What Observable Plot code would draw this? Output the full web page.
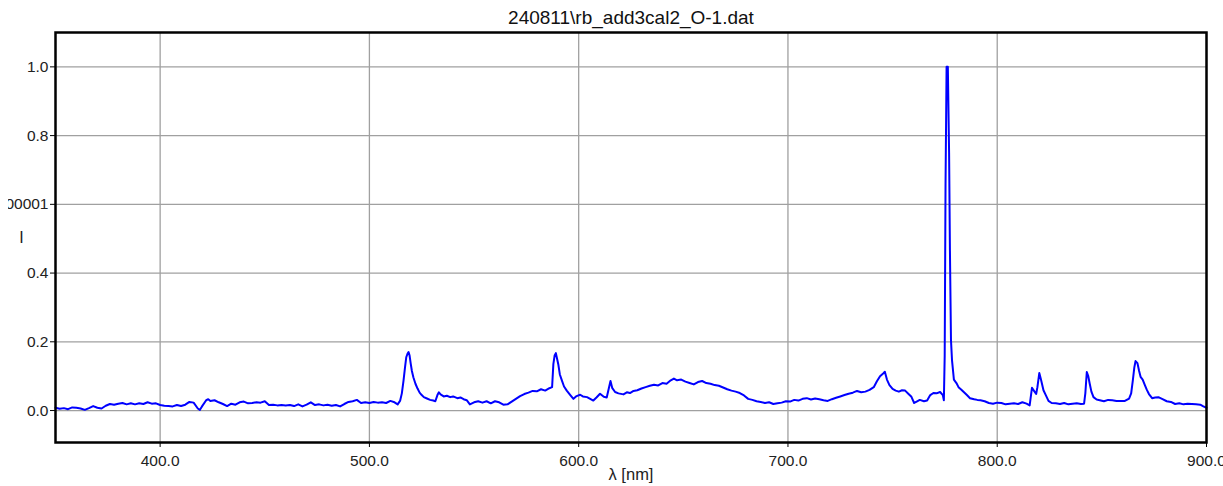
<!DOCTYPE html>
<html>
<head>
<meta charset="utf-8">
<script src="https://cdn.jsdelivr.net/npm/d3@7"></script>
<script src="https://cdn.jsdelivr.net/npm/@observablehq/plot@0.6"></script>
<style>
  html, body { margin: 0; padding: 0; background: #fff; overflow: hidden; }
  #title {
    box-sizing: border-box; width: 1223px; height: 28px; padding-top: 8px; padding-left: 39px;
    font: 19px "Liberation Sans", Arial, sans-serif; line-height: 19px; text-align: center; color: #111;
    white-space: nowrap; position: relative; z-index: 2;
  }
  #chart svg { clip-path: inset(0 0 0 8px); }
</style>
</head>
<body>
<div id="title">240811\rb_add3cal2_O-1.dat</div>
<div id="chart"></div>
<script>
// Spectrum segments: [wavelength nm, relative intensity]
const bandUV = [
  [350,0.008],[352,0.005],[354,0.007],[356,0.004],[358,0.009],[360,0.008],[362,0.006],[364,0.002],
  [366,0.007],[368,0.013],[370,0.008],[372,0.006],[374,0.014],[376,0.019],[378,0.017],[380,0.020],
  [382,0.022],[384,0.018],[386,0.021],[388,0.018],[390,0.021],[392,0.019],[394,0.024],[396,0.020],
  [398,0.021],[400,0.016],[402,0.014],[404,0.013],[406,0.012],[408,0.016],[410,0.013],[412,0.017],
  [414,0.025],[416,0.023],[418,0.006],[419,0.002],[420,0.012],[422,0.030],[423,0.033],[424,0.028],
  [426,0.030],[428,0.024],[430,0.019],[432,0.013],[434,0.020],[436,0.017],[438,0.024],[440,0.026],
  [442,0.021],[444,0.022],[446,0.024],[448,0.023],[450,0.027],[452,0.016],[454,0.017],[456,0.015],
  [458,0.016],[460,0.015],[462,0.016],[464,0.013],[466,0.018],[468,0.012],[470,0.017],[472,0.024],
  [474,0.016],[476,0.018],[478,0.015],[480,0.017],[482,0.014],[484,0.016],[486,0.012],[488,0.019],
  [490,0.025],[492,0.027],[494,0.031],[496,0.022],[498,0.024],[500,0.022],[502,0.025],[504,0.023],
  [506,0.024],[508,0.022],[510,0.028]
];
const bandGreen = [
  [512,0.024],[513.5,0.018],[514.7,0.029],[515.5,0.050],[516.3,0.087],[517.0,0.125],[517.6,0.155],
  [518.2,0.165],[518.7,0.170],[519.2,0.160],[519.7,0.138],[520.3,0.115],[521.0,0.097],[522.0,0.078],
  [523.0,0.064],[524.0,0.052],[525.0,0.045],[526.0,0.039],[527.5,0.035],[529.0,0.031],[530.5,0.029],
  [531.5,0.027],[532.5,0.045],[533.2,0.053],[534.0,0.047],[535.5,0.041],[537.0,0.043],[538.6,0.039],
  [540.0,0.041],[542.0,0.036],[543.5,0.038],[545.0,0.033],[546.5,0.030],[548.0,0.018],[550.0,0.024],
  [552.0,0.027],[554.0,0.023],[556.0,0.027],[558.0,0.021],[560.0,0.027],[562.0,0.024],[564.0,0.017],
  [566.0,0.018],[568.0,0.026],[570.0,0.034],[572.0,0.042],[574.0,0.048],[576.0,0.052],[578.0,0.057],
  [580.0,0.056],[582.0,0.062],[584.0,0.058],[586.0,0.065],[587.3,0.068],[587.9,0.135],[588.5,0.160],
  [589.1,0.167],[589.7,0.150],[590.3,0.133],[591.0,0.105],[592.0,0.087],[593.0,0.070],[594.3,0.058],
  [596.0,0.045],[597.5,0.034],[599.0,0.042],[600.7,0.046],[602.0,0.041],[604.0,0.039],[605.5,0.034],
  [607.0,0.029],[608.5,0.038],[610.2,0.049],[612.0,0.040],[613.4,0.038],[614.6,0.070],[615.2,0.086],
  [616.0,0.066],[617.4,0.054],[619.0,0.050],[621.4,0.047],[623.0,0.053],[624.5,0.051],[626.2,0.057],
  [628.0,0.059]
];
const bandRed = [
  [630,0.064],[632,0.068],[634,0.072],[636,0.075],[638,0.073],[640,0.080],[642,0.078],[644,0.088],
  [645.5,0.093],[647,0.088],[649,0.090],[651,0.084],[653,0.080],[655,0.076],[657,0.083],[659,0.086],
  [661,0.080],[663,0.078],[665,0.074],[667,0.072],[669,0.067],[671,0.062],[673,0.058],[675,0.055],
  [677,0.051],[679,0.044],[681,0.034],[683,0.031],[685,0.027],[687,0.025],[689,0.022],[691,0.024],
  [693,0.019],[695,0.021],[697,0.023],[699,0.027],[701,0.026],[703,0.031],[705,0.029],[707,0.034],
  [709,0.036],[711,0.032],[713,0.035],[715,0.033],[717,0.030],[719,0.028],[721,0.033],[723,0.037],
  [725,0.041],[727,0.045],[729,0.049],[731,0.052],[733,0.057],[735,0.053],[737,0.055],[739,0.060],
  [741,0.068],[742.5,0.085],[744,0.100],[745.5,0.108],[746.3,0.113],[747.3,0.090],[748.5,0.074],
  [750,0.063],[751.5,0.058],[753,0.055],[754.5,0.059],[756,0.058],[757.5,0.049],[759,0.040],
  [760.3,0.022],[761.5,0.026],[763,0.031],[765,0.027],[766.5,0.029],[768,0.045],[769.5,0.051],
  [771,0.050],[772.7,0.054],[774.0,0.045],[774.5,0.030]
];
const oxygenLine = [
  [774.9,0.160],[775.3,0.660],[775.8,1.000],[776.4,1.000],[777.0,0.750],[777.4,0.465],[777.9,0.205],
  [778.4,0.146],[779.3,0.090],[780.5,0.080],[781.5,0.068],[783,0.060],[784,0.054],[785.5,0.045],
  [787,0.036],[789,0.033],[790.5,0.031],[792,0.030],[794,0.027],[796,0.022],[798,0.020]
];
const bandNIR = [
  [800,0.023],[802,0.022],[804,0.018],[806,0.020],[808,0.021],[810,0.019],[812,0.024],[814,0.020],
  [815.5,0.015],[816.6,0.066],[817.5,0.058],[818.6,0.048],[819.2,0.068],[820.1,0.109],[820.9,0.090],
  [822.1,0.059],[823.2,0.045],[824.5,0.028],[826,0.022],[828,0.021],[830,0.019],[832,0.022],
  [834,0.018],[836,0.020],[838,0.021],[840,0.019],[841.5,0.020],[842.1,0.050],[842.8,0.112],
  [843.5,0.100],[844.2,0.078],[845,0.055],[846,0.039],[847.5,0.032],[849,0.030],[851,0.027],
  [853,0.031],[855,0.030],[857,0.028],[859,0.028],[861,0.028],[863,0.035],[864,0.050],[864.8,0.088],
  [865.5,0.125],[866.1,0.144],[867,0.138],[867.8,0.115],[868.5,0.098],[869.5,0.090],[870.5,0.075],
  [871.5,0.060],[872.5,0.048],[874,0.036],[875.5,0.038],[877,0.039],[879,0.033],[881,0.027],
  [883,0.025],[885,0.019],[887,0.021],[889,0.018],[891,0.020],[893,0.019],[895,0.018],[897,0.017],
  [898.5,0.012],[900,0.008]
];

const xTicks = [400, 500, 600, 700, 800, 900];
const xTickLabels = ["400.0", "500.0", "600.0", "700.0", "800.0", "900.0"];
const yTicks = [0, 0.2, 0.4, 0.6, 0.8, 1.0];
const yTickLabels = ["0.0", "0.2", "0.4", "0.600001", "0.8", "1.0"];
const xLabel = "λ [nm]";
const yLabel = "I";

const spectrum = [...bandUV, ...bandGreen, ...bandRed, ...oxygenLine, ...bandNIR]
  .map(([w, v]) => ({w, v}));
const xLab = new Map(xTicks.map((t, i) => [t, xTickLabels[i]]));
const yLab = new Map(yTicks.map((t, i) => [t, yTickLabels[i]]));

const chart = Plot.plot({
  width: 1223,
  height: 458,
  marginTop: 4,
  marginBottom: 44,
  marginLeft: 55,
  marginRight: 17,
  style: {fontFamily: "'Liberation Sans', Arial, sans-serif", fontSize: "15.5px", color: "#222", background: "transparent"},
  x: {domain: [350, 900], label: null},
  y: {domain: [-0.093, 1.1], label: null},
  marks: [
    Plot.gridX(xTicks, {stroke: "#a0a0a0", strokeOpacity: 1, strokeWidth: 1.3}),
    Plot.gridY(yTicks, {stroke: "#a0a0a0", strokeOpacity: 1, strokeWidth: 1.3}),
    Plot.line(spectrum, {x: "w", y: "v", stroke: "#0000ff", strokeWidth: 2}),
    Plot.frame({stroke: "#000", strokeWidth: 2.5}),
    Plot.axisX(xTicks, {anchor: "bottom", tickSize: 5, tickPadding: 7, tickFormat: d => xLab.get(d), label: null, stroke: "#000"}),
    Plot.axisY(yTicks, {anchor: "left", tickSize: 5, tickPadding: 2, tickFormat: d => yLab.get(d), label: null, stroke: "#000"}),
    Plot.text([xLabel], {frameAnchor: "bottom", dy: 32, lineAnchor: "middle", textAnchor: "middle", fontSize: 16.5, fill: "#222"}),
    Plot.text([yLabel], {frameAnchor: "left", dx: -34, lineAnchor: "middle", textAnchor: "middle", fontSize: 16, fill: "#222"})
  ]
});
document.getElementById("chart").appendChild(chart);
</script>
</body>
</html>
